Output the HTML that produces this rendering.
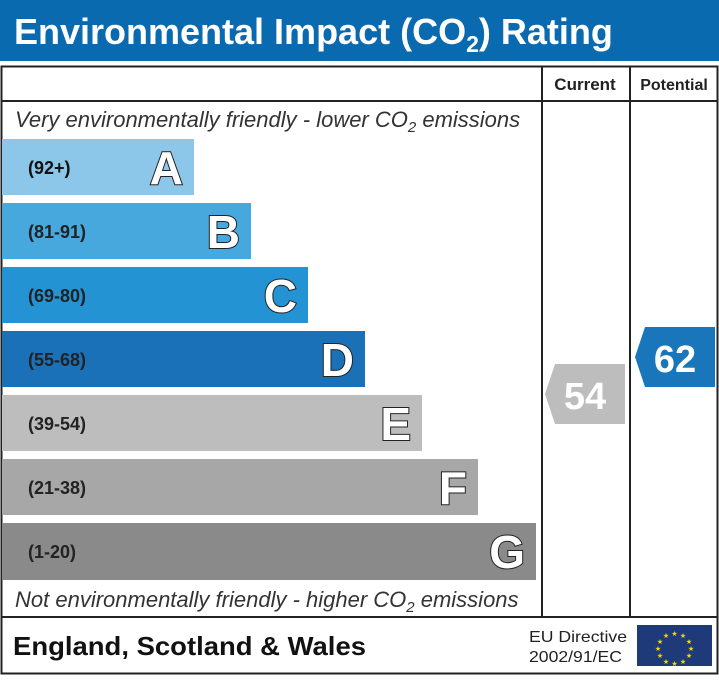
<!DOCTYPE html>
<html><head><style>body{margin:0;background:#fff}</style></head><body>
<svg width="719" height="675" xmlns="http://www.w3.org/2000/svg" font-family="Liberation Sans, Arial, sans-serif">
<rect width="719" height="675" fill="#fff"/>
<rect x="0" y="0" width="719" height="61" fill="#0a6ab0"/>
<text x="14" y="44" font-size="36" font-weight="bold" fill="#fff">Environmental Impact (CO<tspan font-size="23" dy="8">2</tspan><tspan dy="-8">) Rating</tspan></text>
<rect x="1.5" y="66.5" width="716" height="607" fill="none" stroke="#222" stroke-width="2"/>
<line x1="1" y1="101" x2="718" y2="101" stroke="#222" stroke-width="2"/>
<line x1="542" y1="66" x2="542" y2="617" stroke="#222" stroke-width="2"/>
<line x1="630" y1="66" x2="630" y2="617" stroke="#222" stroke-width="2"/>
<line x1="1" y1="617" x2="718" y2="617" stroke="#222" stroke-width="2"/>
<text x="585" y="90" font-size="17" font-weight="bold" text-anchor="middle" fill="#222">Current</text>
<text x="674" y="90" font-size="16" font-weight="bold" text-anchor="middle" fill="#222">Potential</text>
<text x="15" y="127" font-size="22" font-style="italic" fill="#333">Very environmentally friendly - lower CO<tspan font-size="15" dy="5">2</tspan><tspan dy="-5"> emissions</tspan></text>
<text x="15" y="607" font-size="22" font-style="italic" fill="#333">Not environmentally friendly - higher CO<tspan font-size="15" dy="5">2</tspan><tspan dy="-5"> emissions</tspan></text>
<g font-weight="bold">
<rect x="2" y="139" width="192" height="56" fill="#8cc6e8"/>
<text x="28" y="174" font-size="18" fill="#111">(92+)</text>
<text x="183" y="184" font-size="46" text-anchor="end" fill="#fff" stroke="#222" stroke-width="2" paint-order="stroke">A</text>
<rect x="2" y="203" width="249" height="56" fill="#46a8dd"/>
<text x="28" y="238" font-size="18" fill="#222">(81-91)</text>
<text x="240" y="248" font-size="46" text-anchor="end" fill="#fff" stroke="#222" stroke-width="2" paint-order="stroke">B</text>
<rect x="2" y="267" width="306" height="56" fill="#2393d4"/>
<text x="28" y="302" font-size="18" fill="#222">(69-80)</text>
<text x="297" y="312" font-size="46" text-anchor="end" fill="#fff" stroke="#222" stroke-width="2" paint-order="stroke">C</text>
<rect x="2" y="331" width="363" height="56" fill="#1a71b8"/>
<text x="28" y="366" font-size="18" fill="#222">(55-68)</text>
<text x="354" y="376" font-size="46" text-anchor="end" fill="#fff" stroke="#222" stroke-width="2" paint-order="stroke">D</text>
<rect x="2" y="395" width="420" height="56" fill="#bdbdbd"/>
<text x="28" y="430" font-size="18" fill="#222">(39-54)</text>
<text x="411" y="440" font-size="46" text-anchor="end" fill="#fff" stroke="#222" stroke-width="2" paint-order="stroke">E</text>
<rect x="2" y="459" width="476" height="56" fill="#a7a7a7"/>
<text x="28" y="494" font-size="18" fill="#222">(21-38)</text>
<text x="467" y="504" font-size="46" text-anchor="end" fill="#fff" stroke="#222" stroke-width="2" paint-order="stroke">F</text>
<rect x="2" y="523" width="534" height="57" fill="#8a8a8a"/>
<text x="28" y="558" font-size="18" fill="#222">(1-20)</text>
<text x="525" y="568" font-size="46" text-anchor="end" fill="#fff" stroke="#222" stroke-width="2" paint-order="stroke">G</text>
<polygon points="555,364 625,364 625,424 555,424 545,394" fill="#bdbdbd"/>
<text x="585" y="409" font-size="38" text-anchor="middle" fill="#fff">54</text>
<polygon points="645,327 715,327 715,387 645,387 635,357" fill="#1a76bb"/>
<text x="675" y="372" font-size="38" text-anchor="middle" fill="#fff">62</text>
</g>
<text x="13" y="655" font-size="26" font-weight="bold" fill="#111" textLength="353" lengthAdjust="spacingAndGlyphs">England, Scotland &amp; Wales</text>
<text x="529" y="642" font-size="16" fill="#222" textLength="98" lengthAdjust="spacingAndGlyphs">EU Directive</text>
<text x="529" y="662" font-size="16" fill="#222" textLength="93" lengthAdjust="spacingAndGlyphs">2002/91/EC</text>
<rect x="637" y="625" width="75" height="41" fill="#1f3a78"/>
<g fill="#f5d800" font-size="7" text-anchor="middle">
<text x="674.5" y="636">★</text><text x="683" y="638">★</text><text x="689" y="644">★</text><text x="691" y="651">★</text><text x="689" y="658">★</text><text x="683" y="664">★</text><text x="674.5" y="666">★</text><text x="666" y="664">★</text><text x="660" y="658">★</text><text x="658" y="651">★</text><text x="660" y="644">★</text><text x="666" y="638">★</text>
</g>
</svg>
</body></html>
